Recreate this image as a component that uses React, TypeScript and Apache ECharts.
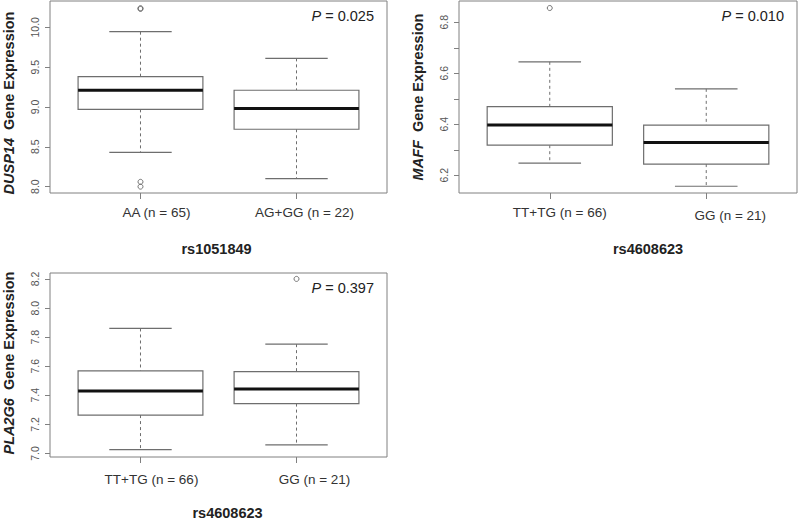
import React, { useEffect, useRef } from "react";
import * as echarts from "echarts";

// ---------- data ----------
const snp1 = "rs1051849";
const snp2 = "rs4608623";
const gene1 = "DUSP14";
const gene2 = "MAFF";
const gene3 = "PLA2G6";

const groups1 = ["AA (n = 65)", "AG+GG (n = 22)"];
const groups2 = ["TT+TG (n = 66)", "GG (n = 21)"];
const groups3 = ["TT+TG (n = 66)", "GG (n = 21)"];

// [lower whisker, Q1, median, Q3, upper whisker]
const stats1 = [
  [8.43, 8.97, 9.21, 9.38, 9.945],
  [8.1, 8.72, 8.98, 9.21, 9.61],
];
const stats2 = [
  [6.248, 6.318, 6.397, 6.469, 6.645],
  [6.157, 6.244, 6.329, 6.397, 6.539],
];
const stats3 = [
  [7.026, 7.264, 7.429, 7.568, 7.86],
  [7.059, 7.343, 7.444, 7.563, 7.752],
];

// [group index, value]
const outliers1 = [
  [0, 10.24],
  [0, 10.23],
  [0, 8.06],
  [0, 8.0],
];
const outliers2 = [[0, 6.856]];
const outliers3 = [[1, 8.201]];

const pValues = ["0.025", "0.010", "0.397"];

const yTicks1 = [8.0, 8.5, 9.0, 9.5, 10.0];
const yLabels1 = [8.0, 8.5, 9.0, 9.5, 10.0];
const yTicks2 = [6.2, 6.3, 6.4, 6.5, 6.6, 6.7, 6.8];
const yLabels2 = [6.2, 6.4, 6.6, 6.8];
const yTicks3 = [7.0, 7.2, 7.4, 7.6, 7.8, 8.0, 8.2];
const yLabels3 = [7.0, 7.2, 7.4, 7.6, 7.8, 8.0, 8.2];

const yRange1 = [7.92, 10.33];
const yRange2 = [6.1306, 6.8835];
const yRange3 = [6.9756, 8.2416];

// ---------- styles / layout ----------
const FONT = "'Liberation Sans', Arial, Helvetica, sans-serif";
const LINE = "#6e6e6e";
const FRAME = "#808080";
const X_RANGE = [0.42, 2.58];

type Panel = {
  grid: { left: number; top: number; width: number; height: number };
  groups: string[];
  stats: number[][];
  outliers: number[][];
  yTicks: number[];
  yLabels: number[];
  yRange: number[];
  gene: string;
  snp: string;
  p: string;
  labelShift: number[];
  labelMargin: number;
  snpShift: number;
  geneShift: number;
};

const panels: Panel[] = [
  {
    grid: { left: 49, top: 1, width: 338, height: 192 },
    groups: groups1,
    stats: stats1,
    outliers: outliers1,
    yTicks: yTicks1,
    yLabels: yLabels1,
    yRange: yRange1,
    gene: gene1,
    snp: snp1,
    p: pValues[0],
    labelShift: [16, 8],
    labelMargin: 12,
    snpShift: -2,
    geneShift: 6,
  },
  {
    grid: { left: 459, top: 1, width: 338, height: 192 },
    groups: groups2,
    stats: stats2,
    outliers: outliers2,
    yTicks: yTicks2,
    yLabels: yLabels2,
    yRange: yRange2,
    gene: gene2,
    snp: snp2,
    p: pValues[1],
    labelShift: [10, 24],
    labelMargin: 12,
    snpShift: 20,
    geneShift: 0,
  },
  {
    grid: { left: 49, top: 273, width: 338, height: 192 },
    groups: groups3,
    stats: stats3,
    outliers: outliers3,
    yTicks: yTicks3,
    yLabels: yLabels3,
    yRange: yRange3,
    gene: gene3,
    snp: snp2,
    p: pValues[2],
    labelShift: [11, 18],
    labelMargin: 15,
    snpShift: 9,
    geneShift: -2,
  },
];

function renderBox(params: any, api: any) {
  const x = api.value(0);
  const mn = api.value(1);
  const q1 = api.value(2);
  const md = api.value(3);
  const q3 = api.value(4);
  const mx = api.value(5);
  const hw = 0.4;
  const cw = 0.2;
  const c = (a: number, b: number) => api.coord([a, b]);
  const [xl, yq3] = c(x - hw, q3);
  const [xr, yq1] = c(x + hw, q1);
  const [xc, ymx] = c(x, mx);
  const ymn = c(x, mn)[1];
  const ymd = c(x, md)[1];
  const cl = c(x - cw, mx)[0];
  const cr = c(x + cw, mx)[0];
  const dashed = { stroke: LINE, lineWidth: 1, lineDash: [3, 3] };
  const solid = { stroke: LINE, lineWidth: 1.2 };
  return {
    type: "group",
    children: [
      { type: "line", shape: { x1: xc, y1: ymx, x2: xc, y2: yq3 }, style: dashed },
      { type: "line", shape: { x1: xc, y1: yq1, x2: xc, y2: ymn }, style: dashed },
      { type: "line", shape: { x1: cl, y1: ymx, x2: cr, y2: ymx }, style: solid },
      { type: "line", shape: { x1: cl, y1: ymn, x2: cr, y2: ymn }, style: solid },
      {
        type: "rect",
        shape: { x: xl, y: yq3, width: xr - xl, height: yq1 - yq3 },
        style: { fill: "#fff", stroke: LINE, lineWidth: 1.2 },
      },
      {
        type: "line",
        shape: { x1: xl, y1: ymd, x2: xr, y2: ymd },
        style: { stroke: "#111", lineWidth: 3 },
      },
    ],
  };
}

function buildOption() {
  const grid: any[] = [];
  const xAxis: any[] = [];
  const yAxis: any[] = [];
  const series: any[] = [];
  const graphic: any[] = [];

  panels.forEach((pn, i) => {
    grid.push({
      ...pn.grid,
      show: true,
      borderColor: FRAME,
      borderWidth: 1,
      backgroundColor: "transparent",
      containLabel: false,
    });
    const rich: any = {};
    pn.groups.forEach((_, k) => {
      rich["l" + k] = {
        fontFamily: FONT,
        fontSize: 13.5,
        color: "#333",
        padding: [k === 1 && i === 1 ? 3 : 0, 0, 0, pn.labelShift[k] * 2],
      };
    });
    xAxis.push({
      type: "value",
      gridIndex: i,
      min: X_RANGE[0],
      max: X_RANGE[1],
      axisLine: { show: false },
      splitLine: { show: false },
      axisTick: {
        show: true,
        customValues: pn.groups.map((_, k) => k + 1),
        length: 6,
        lineStyle: { color: FRAME, width: 1 },
      },
      axisLabel: {
        show: true,
        customValues: pn.groups.map((_, k) => k + 1),
        margin: pn.labelMargin,
        formatter: (v: number) => {
          const k = Math.round(v) - 1;
          return `{l${k}|${pn.groups[k]}}`;
        },
        rich,
      },
      name: pn.snp,
      nameLocation: "middle",
      nameGap: 48,
      nameTextStyle: {
        fontFamily: FONT,
        fontSize: 14.5,
        fontWeight: "bold",
        color: "#222",
        padding: pn.snpShift >= 0 ? [0, 0, 0, pn.snpShift * 2] : [0, -pn.snpShift * 2, 0, 0],
      },
    });
    yAxis.push({
      type: "value",
      gridIndex: i,
      min: pn.yRange[0],
      max: pn.yRange[1],
      axisLine: { show: false },
      splitLine: { show: false },
      axisTick: {
        show: true,
        customValues: pn.yTicks,
        length: 5,
        lineStyle: { color: FRAME, width: 1 },
      },
      axisLabel: {
        show: true,
        customValues: pn.yLabels,
        rotate: 90,
        margin: 10,
        fontFamily: FONT,
        fontSize: 10.5,
        color: "#555",
        formatter: (v: number) => v.toFixed(1),
      },
      name: `{g|${pn.gene}}  {e|Gene Expression}`,
      nameLocation: "middle",
      nameRotate: 90,
      nameGap: 34,
      nameTextStyle: {
        fontFamily: FONT,
        fontSize: 14.5,
        color: "#222",
        padding: pn.geneShift >= 0 ? [0, pn.geneShift * 2, 0, 0] : [0, 0, 0, -pn.geneShift * 2],
        rich: {
          g: { fontFamily: FONT, fontSize: 14.5, fontWeight: "bold", fontStyle: "italic", color: "#222" },
          e: { fontFamily: FONT, fontSize: 14.5, fontWeight: "bold", color: "#222" },
        },
      },
    });
    series.push({
      type: "custom",
      xAxisIndex: i,
      yAxisIndex: i,
      renderItem: renderBox,
      encode: { x: 0, y: [1, 2, 3, 4, 5] },
      data: pn.stats.map((s, k) => [k + 1, ...s]),
      z: 2,
    });
    series.push({
      type: "scatter",
      xAxisIndex: i,
      yAxisIndex: i,
      symbol: "circle",
      symbolSize: 5,
      itemStyle: { color: "transparent", borderColor: "#555", borderWidth: 1 },
      data: pn.outliers.map(([g, v]) => [g + 1, v]),
      z: 3,
    });
    graphic.push({
      type: "text",
      x: pn.grid.left + pn.grid.width - 13,
      y: pn.grid.top + 15,
      style: {
        text: `{i|P} = ${pn.p}`,
        align: "right",
        verticalAlign: "middle",
        fontFamily: FONT,
        fontSize: 14.5,
        fill: "#222",
        rich: {
          i: { fontFamily: FONT, fontSize: 14.5, fontStyle: "italic", fill: "#222" },
        },
      },
    });
  });

  return {
    animation: false,
    backgroundColor: "#fff",
    grid,
    xAxis,
    yAxis,
    series,
    graphic,
  };
}

export default function App() {
  const ref = useRef<HTMLDivElement>(null);
  useEffect(() => {
    if (!ref.current) return;
    const chart = echarts.init(ref.current, null, { renderer: "svg" });
    chart.setOption(buildOption() as any);
    return () => chart.dispose();
  }, []);
  return (
    <div
      ref={ref}
      style={{ position: "absolute", left: 0, top: 0, width: 799, height: 521, background: "#fff" }}
    />
  );
}
